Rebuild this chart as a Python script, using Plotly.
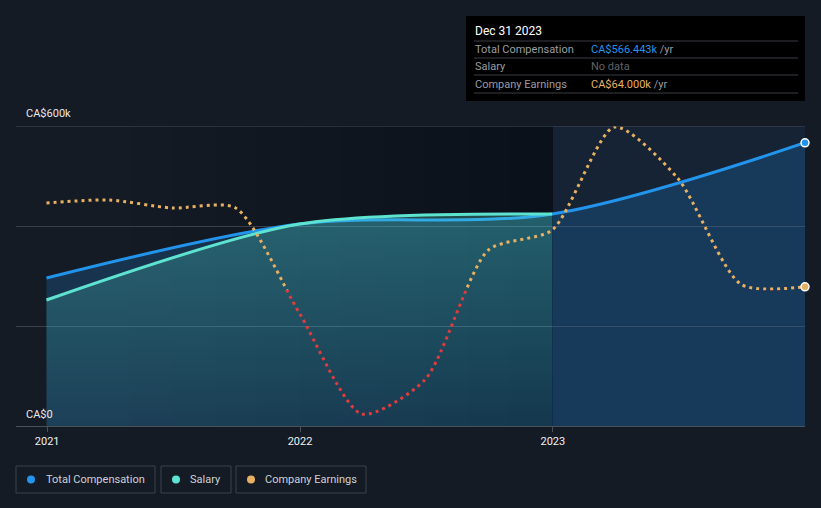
import plotly.graph_objects as go

# ---- data (CA$ thousands) ----
comp_dates = ['2020-12-31', '2021-12-31', '2022-12-31', '2023-12-31']
total_comp = [296, 404, 424, 566.443]
salary_dates = ['2020-12-31', '2021-12-31', '2022-12-31']
salary = [252, 404, 424]

earn_dates = ['2020-12-31', '2021-03-31', '2021-06-30', '2021-09-30', '2021-12-31',
              '2022-03-31', '2022-06-30', '2022-09-30', '2022-12-31',
              '2023-03-31', '2023-06-30', '2023-09-30', '2023-12-31']
earnings = [1740, 1800, 1640, 1640, -460, -2480, -1800, 800, 1200, 3260, 2240, 110, 64]

year_ticks = ['2021-01-01', '2022-01-01', '2023-01-01']
year_labels = ['2021', '2022', '2023']

BG = '#151b25'
BLUE = '#2394ec'
TEAL = '#5de3d0'
ORANGE = '#e8b162'
RED = '#e23b3d'

# pixel helpers (plot area: x 16..805, y 126..426)
def px(x):
    return (x - 16) / 789

def py(y):
    return (426 - y) / 300

EARN_LO, EARN_HI = -2720, 3280
zero_frac = (0 - EARN_LO) / (EARN_HI - EARN_LO)

fig = go.Figure()

fig.add_trace(go.Scatter(
    x=comp_dates, y=total_comp, mode='lines', name='Total Compensation',
    line=dict(color=BLUE, width=3, shape='spline', smoothing=0.9),
    fill='tozeroy', fillcolor='rgba(33,150,243,0.2)', hoverinfo='skip'
))
fig.add_trace(go.Scatter(
    x=salary_dates, y=salary, mode='lines', name='Salary',
    line=dict(color=TEAL, width=3, shape='spline', smoothing=0.8),
    fill='tozeroy',
    fillgradient=dict(type='vertical', colorscale=[[0, 'rgba(88,229,207,0.07)'], [1, 'rgba(88,229,207,0.28)']]),
    hoverinfo='skip'
))
fig.add_trace(go.Scatter(
    x=[comp_dates[-1]], y=[total_comp[-1]], mode='markers', cliponaxis=False,
    marker=dict(color=BLUE, size=8, line=dict(color='white', width=1.5)), hoverinfo='skip'
))

# earnings: red part clipped below zero, orange above zero
fig.add_trace(go.Scatter(
    x=earn_dates, y=earnings, mode='lines', yaxis='y2',
    line=dict(color=RED, width=3, shape='spline', smoothing=0.7, dash='3px,4px'), hoverinfo='skip'
))
fig.add_trace(go.Scatter(
    x=earn_dates, y=earnings, mode='lines', yaxis='y3',
    line=dict(color=ORANGE, width=3, shape='spline', smoothing=0.7, dash='3px,4px'), hoverinfo='skip'
))
fig.add_trace(go.Scatter(
    x=[earn_dates[-1]], y=[earnings[-1]], mode='markers', yaxis='y3', cliponaxis=False,
    marker=dict(color=ORANGE, size=8, line=dict(color='white', width=1.5)), hoverinfo='skip'
))

shapes = []
# highlighted last-year region
shapes.append(dict(type='rect', xref='x', yref='paper', x0='2023-01-01', x1='2023-12-31',
                   y0=0, y1=1, fillcolor='rgba(40,110,190,0.10)', line_width=0, layer='below'))
# gradual darkening toward 2023
steps = ['2021-05-01', '2021-07-01', '2021-09-01', '2021-11-01', '2022-01-01',
         '2022-03-01', '2022-05-01', '2022-07-01', '2022-09-01', '2022-11-01']
for d0 in steps:
    shapes.append(dict(type='rect', xref='x', yref='paper', x0=d0, x1='2023-01-01',
                       y0=0, y1=1, fillcolor='rgba(0,0,0,0.028)', line_width=0, layer='below'))
# top gridline (600k)
shapes.append(dict(type='line', xref='paper', yref='y', x0=0, x1=1, y0=600, y1=600,
                   line=dict(color='#454b55', width=1)))

# tooltip box
shapes.append(dict(type='rect', xref='paper', yref='paper', x0=px(466), x1=px(805),
                   y0=py(101), y1=py(16), fillcolor='#000000', line_width=0))
for yy in [41, 58, 75, 93]:
    shapes.append(dict(type='line', xref='paper', yref='paper', x0=px(474), x1=px(798),
                       y0=py(yy), y1=py(yy), line=dict(color='#3a3d42', width=1)))

# legend boxes
legend_items = [('Total Compensation', BLUE, 16, 155, 31, 44),
                ('Salary', TEAL, 161, 231, 176, 188),
                ('Company Earnings', ORANGE, 236, 366, 251, 263)]
annotations = []
for label, col, bx0, bx1, dotx, tx in legend_items:
    shapes.append(dict(type='rect', xref='paper', yref='paper', x0=px(bx0), x1=px(bx1),
                       y0=py(493), y1=py(466), line=dict(color='#3c424c', width=1),
                       fillcolor='rgba(0,0,0,0)'))
    shapes.append(dict(type='circle', xref='paper', yref='paper', x0=px(dotx - 4), x1=px(dotx + 4),
                       y0=py(483.5), y1=py(475.5), fillcolor=col, line_width=0))
    annotations.append(dict(text=label, xref='paper', yref='paper', x=px(tx), y=py(479.5),
                            xanchor='left', yanchor='middle', showarrow=False,
                            font=dict(size=11, color='#cdd1d6')))

# y labels
annotations.append(dict(text='CA$600k', xref='paper', yref='paper', x=px(24), y=py(114),
                        xanchor='left', yanchor='middle', showarrow=False,
                        font=dict(size=11, color='#e8e8e8')))
annotations.append(dict(text='CA$0', xref='paper', yref='paper', x=px(24), y=py(414),
                        xanchor='left', yanchor='middle', showarrow=False,
                        font=dict(size=11, color='#e8e8e8')))

# tooltip texts
annotations.append(dict(text='Dec 31 2023', xref='paper', yref='paper', x=px(473), y=py(31),
                        xanchor='left', yanchor='middle', showarrow=False,
                        font=dict(size=12, color='#ffffff')))
rows = [('Total Compensation', f'<span style="color:{BLUE}">CA$566.443k</span> /yr', 49.5),
        ('Salary', '<span style="color:#5f6368">No data</span>', 66.5),
        ('Company Earnings', f'<span style="color:{ORANGE}">CA$64.000k</span> /yr', 84)]
for lab, val, yy in rows:
    annotations.append(dict(text=lab, xref='paper', yref='paper', x=px(473), y=py(yy),
                            xanchor='left', yanchor='middle', showarrow=False,
                            font=dict(size=11, color='#9a9da2')))
    annotations.append(dict(text=val, xref='paper', yref='paper', x=px(589), y=py(yy),
                            xanchor='left', yanchor='middle', showarrow=False,
                            font=dict(size=11, color='#9a9da2')))

fig.update_layout(
    width=821, height=508,
    paper_bgcolor=BG, plot_bgcolor='rgba(0,0,0,0)',
    margin=dict(l=16, r=16, t=126, b=82),
    showlegend=False,
    font=dict(family='Roboto, sans-serif', color='#e8e8e8'),
    xaxis=dict(
        type='date', range=['2020-11-17', '2023-12-31'],
        tickvals=year_ticks, ticktext=year_labels,
        ticks='outside', ticklen=5, tickcolor='#4a4f58',
        showline=True, linecolor='#4a4f58', linewidth=1,
        showgrid=False, zeroline=False,
        tickfont=dict(size=11, color='#f0f0f0')
    ),
    yaxis=dict(
        range=[0, 600], tickvals=[0, 200, 400, 600], showticklabels=False,
        showgrid=True, gridcolor='#3a3f49', gridwidth=1, zeroline=False
    ),
    yaxis2=dict(domain=[0, zero_frac], range=[EARN_LO, 0], visible=False,
                anchor='x', showgrid=False, zeroline=False),
    yaxis3=dict(domain=[zero_frac, 1], range=[0, EARN_HI], visible=False,
                anchor='x', showgrid=False, zeroline=False),
    shapes=shapes,
    annotations=annotations
)

fig.write_html("out.html", config={'displayModeBar': False},
               post_script="document.body.style.margin='0';")
